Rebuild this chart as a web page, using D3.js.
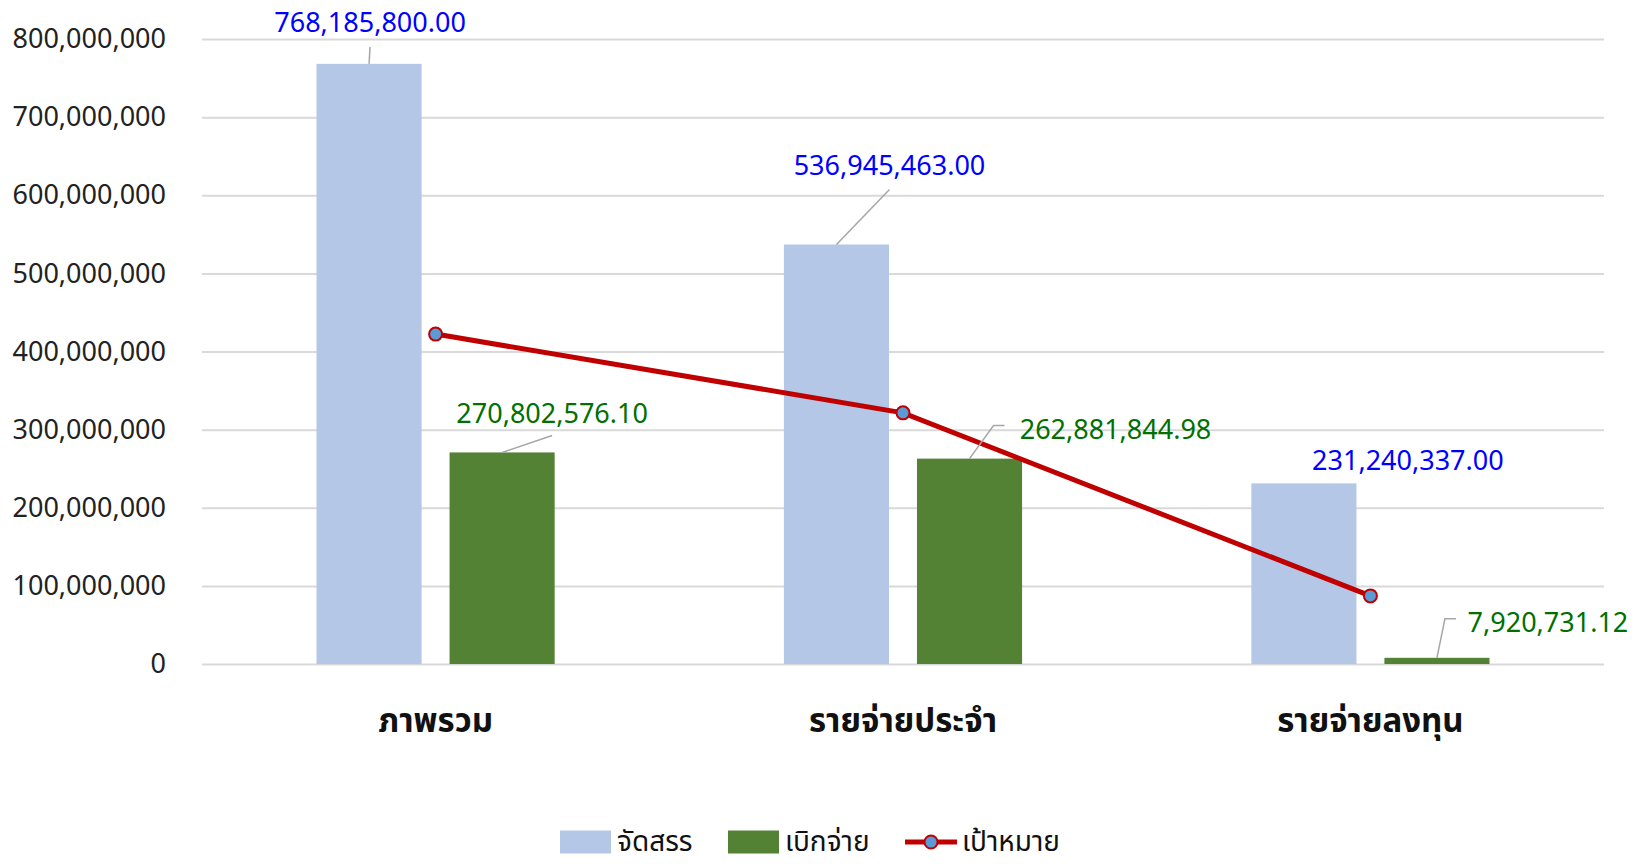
<!DOCTYPE html>
<html>
<head>
<meta charset="utf-8">
<script src="https://cdnjs.cloudflare.com/ajax/libs/d3/7.8.5/d3.min.js"></script>
<style>
  body { margin: 0; background: #fff; }
  svg { display: block; }
  .num { font-family: "Noto Sans", "Liberation Sans", sans-serif; }
  .thai { font-family: "Noto Sans Thai", "Noto Sans", "DejaVu Sans", sans-serif; }
</style>
</head>
<body>
<svg id="chart" width="1646" height="865"></svg>
<script>
// data
const categories = ["ภาพรวม", "รายจ่ายประจำ", "รายจ่ายลงทุน"];
const seriesNames = ["จัดสรร", "เบิกจ่าย", "เป้าหมาย"];
const allocated = [768185800.00, 536945463.00, 231240337.00];
const disbursed = [270802576.10, 262881844.98, 7920731.12];
const target = [422300000, 321500000, 87200000];
const yTicks = [0, 100000000, 200000000, 300000000, 400000000, 500000000, 600000000, 700000000, 800000000];

// label placement (offset from bar top-center): [labelDx, labelDy, leader points...]
const allocLabelPos = [
  { dx: 1, dy: -42, leader: [[0, 0], [1, -17]] },
  { dx: 53, dy: -80, leader: [[0, 0], [53, -55]] },
  { dx: 104, dy: -24, leader: null }
];
const disbLabelPos = [
  { dx: 50, dy: -40, leader: [[0, 0], [50, -17]] },
  { dx: 146, dy: -30, leader: [[0, 0], [24, -33], [35, -33]] },
  { dx: 111, dy: -36, leader: [[0, 0], [8, -39], [19, -39]] }
];

const svg = d3.select("#chart");
const plotLeft = 202, plotRight = 1604, plotTop = 39, plotBottom = 664;

const y = d3.scaleLinear().domain([0, 800000000]).range([plotBottom, plotTop]);

const x0 = d3.scaleBand().domain(categories).range([plotLeft, plotRight])
  .paddingInner(0.4905).paddingOuter(0.245);
const x1 = d3.scaleBand().domain([0, 1]).range([0, x0.bandwidth()]).paddingInner(0.21);

// gridlines
const grid = svg.append("g").attr("transform", `translate(${plotLeft},0)`)
  .call(d3.axisLeft(y).tickValues(yTicks).tickSize(-(plotRight - plotLeft)).tickFormat(""));
grid.select(".domain").remove();
grid.selectAll("line").attr("stroke", "#d9d9d9").attr("stroke-width", 2);

// y axis labels
const yAxis = svg.append("g").attr("transform", `translate(${plotLeft},0)`)
  .call(d3.axisLeft(y).tickValues(yTicks).tickSize(0).tickPadding(36).tickFormat(d3.format(",")));
yAxis.select(".domain").remove();
yAxis.selectAll("text").attr("class", "num").attr("font-size", 27).attr("fill", "#222");

// bars
const fmt = d3.format(",.2f");
const groups = svg.append("g").selectAll("g").data(categories).join("g")
  .attr("transform", d => `translate(${x0(d)},0)`);

groups.append("rect")
  .attr("x", x1(0)).attr("width", x1.bandwidth())
  .attr("y", (d, i) => y(allocated[i])).attr("height", (d, i) => plotBottom - y(allocated[i]))
  .attr("fill", "#b4c7e7");

groups.append("rect")
  .attr("x", x1(1)).attr("width", x1.bandwidth())
  .attr("y", (d, i) => y(disbursed[i])).attr("height", (d, i) => plotBottom - y(disbursed[i]))
  .attr("fill", "#548235");

// category labels
const xAxis = svg.append("g").attr("transform", `translate(0,${plotBottom})`)
  .call(d3.axisBottom(x0).tickSize(0).tickPadding(45));
xAxis.select(".domain").remove();
xAxis.selectAll("text").attr("class", "thai").attr("font-size", 33)
  .attr("font-weight", "bold").attr("fill", "#111");

// line series
const lineX = (d, i) => x0(categories[i]) + x0.bandwidth() / 2;
svg.append("path").datum(target)
  .attr("fill", "none").attr("stroke", "#c00000").attr("stroke-width", 5)
  .attr("d", d3.line().x(lineX).y(d => y(d)));
svg.append("g").selectAll("circle").data(target).join("circle")
  .attr("cx", lineX).attr("cy", d => y(d)).attr("r", 6.5)
  .attr("fill", "#5b9bd5").attr("stroke", "#c00000").attr("stroke-width", 2);

// data labels with leader lines
function drawLabels(values, barIdx, pos, color) {
  values.forEach((v, i) => {
    const cx = x0(categories[i]) + x1(barIdx) + x1.bandwidth() / 2;
    const cy = y(v);
    const p = pos[i];
    if (p.leader) {
      svg.append("polyline")
        .attr("points", p.leader.map(q => [cx + q[0], cy + q[1]].join(",")).join(" "))
        .attr("fill", "none").attr("stroke", "#a6a6a6").attr("stroke-width", 1.5);
    }
    svg.append("text").attr("class", "num")
      .attr("x", cx + p.dx).attr("y", cy + p.dy)
      .attr("text-anchor", "middle").attr("dominant-baseline", "central")
      .attr("font-size", 27).attr("fill", color)
      .text(fmt(v));
  });
}
drawLabels(allocated, 0, allocLabelPos, "#0000ff");
drawLabels(disbursed, 1, disbLabelPos, "#007000");

// legend
const legend = svg.append("g").attr("transform", "translate(0,842)");
const legendItems = [
  { name: seriesNames[0], x: 560, type: "rect", color: "#b4c7e7" },
  { name: seriesNames[1], x: 728, type: "rect", color: "#548235" },
  { name: seriesNames[2], x: 905, type: "line", color: "#c00000" }
];
legendItems.forEach(it => {
  const g = legend.append("g").attr("transform", `translate(${it.x},0)`);
  if (it.type === "rect") {
    g.append("rect").attr("x", 0).attr("y", -11.5).attr("width", 51).attr("height", 23).attr("fill", it.color);
  } else {
    g.append("line").attr("x1", 0).attr("x2", 52).attr("y1", 0).attr("y2", 0)
      .attr("stroke", it.color).attr("stroke-width", 5);
    g.append("circle").attr("cx", 26).attr("cy", 0).attr("r", 6.5)
      .attr("fill", "#5b9bd5").attr("stroke", it.color).attr("stroke-width", 2);
  }
  g.append("text").attr("class", "thai").attr("x", 57).attr("y", 0)
    .attr("dominant-baseline", "central").attr("font-size", 28).attr("fill", "#111")
    .text(it.name);
});
</script>
</body>
</html>
